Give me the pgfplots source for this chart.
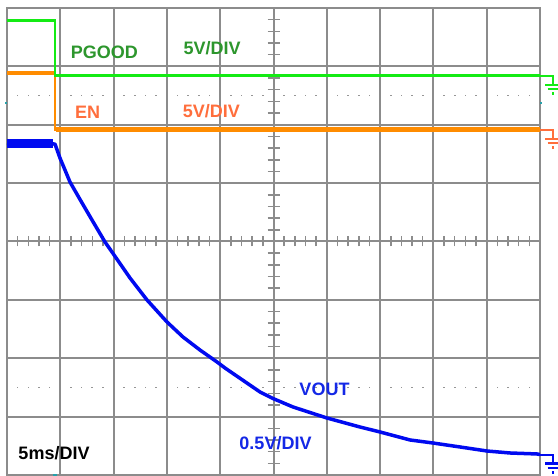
\documentclass[border=0pt]{standalone}
\usepackage{fontspec}
\setmainfont{Liberation Sans}
\usepackage{pgfplots}
\pgfplotsset{compat=1.18}

\definecolor{gridgray}{RGB}{140,140,140}
\definecolor{dotgray}{RGB}{150,150,150}
\definecolor{pgtrace}{RGB}{20,235,20}
\definecolor{pgtext}{RGB}{45,150,45}
\definecolor{entrace}{RGB}{255,140,0}
\definecolor{entext}{RGB}{255,110,60}
\definecolor{vtrace}{RGB}{0,10,240}
\definecolor{vtext}{RGB}{20,40,230}
\definecolor{trig}{RGB}{40,160,170}

\tikzset{lbl/.style={font=\bfseries\fontsize{18}{18}\selectfont, inner sep=0pt, anchor=base west}}

% ground marker at the right edge of the screen
\newcommand{\gnd}[2]{%
  \draw[#1, line width=2pt] (axis cs:10,#2) -- ++(13pt,0pt) -- ++(0pt,-8pt);
  \draw[#1, line width=2.3pt] (axis cs:10,#2) ++(5pt,-9pt) -- ++(13pt,0pt);
  \draw[#1, line width=2.3pt] (axis cs:10,#2) ++(7.5pt,-13.5pt) -- ++(10pt,0pt);
  \fill[#1] (axis cs:10,#2) ++(11.7pt,-19.3pt) rectangle ++(2.6pt,2.6pt);
}

\begin{document}
\begin{tikzpicture}
% screen decorations, one unit = one division, origin at lower left of screen
\begin{scope}[x=53.3pt, y=58.375pt]
  \fill[white] (-7pt,-1pt) rectangle (551pt,475pt);
  \foreach \yy in {1.5,6.5}
    \foreach \i in {1,...,49}
      \fill[dotgray] (\i*0.2,\yy) ++(-0.8pt,-0.8pt) rectangle ++(1.6pt,1.6pt);
  \foreach \i in {1,...,49}
    \draw[gridgray, line width=1.5pt] (\i*0.2,4) ++(0pt,-5pt) -- ++(0pt,10pt);
  \foreach \i in {1,...,39}
    \draw[gridgray, line width=1.5pt] (5,\i*0.2) ++(-6pt,0pt) -- ++(12pt,0pt);
\end{scope}

\begin{axis}[
    anchor=south west, at={(0,0)},
    scale only axis,
    width=533pt, height=467pt,
    xmin=0, xmax=10, ymin=-4, ymax=4,
    xtick={0,...,10}, ytick={-4,...,4},
    xticklabel={\relax}, yticklabel={\relax},
    major tick length=0pt,
    grid=major,
    grid style={gridgray, line width=2pt},
    axis line style={gridgray, line width=2pt},
    clip=false,
]
    % EN
    \addplot[entrace, line width=2pt, mark=none] coordinates {(0,2.89)(0.90,2.89)(0.90,1.915)(10,1.915)};
    \addplot[entrace, line width=4pt, mark=none] coordinates {(0,2.89)(0.88,2.89)};
    \addplot[entrace, line width=4.5pt, mark=none] coordinates {(0.92,1.915)(10,1.915)};

    % PGOOD
    \addplot[pgtrace, line width=2pt, mark=none] coordinates {(0,3.79)(0.90,3.79)(0.90,2.84)(10,2.84)};
    \addplot[pgtrace, line width=3.5pt, mark=none] coordinates {(0,3.79)(0.88,3.79)};
    \addplot[pgtrace, line width=3.5pt, mark=none] coordinates {(0.92,2.84)(10,2.84)};

    % VOUT
    \addplot[vtrace, line width=9pt, mark=none] coordinates {(0,1.68)(0.86,1.68)};
    \addplot[vtrace, line width=3.5pt, mark=none, line join=round] coordinates {
        (0,1.68)(0.90,1.67)(0.994,1.430)(1.182,1.019)(1.370,0.72)(1.595,0.368)
        (1.839,-0.009)(1.970,-0.180)(2.308,-0.625)(2.627,-1.002)(3.002,-1.379)
        (3.302,-1.636)(3.621,-1.859)(3.940,-2.064)(4.090,-2.167)(4.747,-2.578)
        (4.991,-2.69)(5.366,-2.835)(6.004,-3.024)(6.623,-3.178)(6.998,-3.263)
        (7.561,-3.400)(7.992,-3.452)(8.499,-3.520)(9.006,-3.589)(9.437,-3.623)
        (9.944,-3.640)(10,-3.649)};

    % ground markers
    \gnd{pgtrace}{2.84}
    \gnd{entext}{1.915}
    \gnd{vtrace}{-3.649}

    % trigger markers
    \fill[trig] (axis cs:0,2.378) ++(-2pt,-1pt) rectangle ++(2pt,2pt);
    \fill[trig] (axis cs:10,2.378) ++(0pt,-1pt) rectangle ++(2pt,2pt);
    \fill[trig] (axis cs:0.90,-4) ++(-2pt,-1pt) rectangle ++(4pt,2pt);

    % labels
    \node[lbl, pgtext] at (axis cs:1.195,3.138) {PGOOD};
    \node[lbl, pgtext] at (axis cs:3.308,3.195) {5V/DIV};
    \node[lbl, entext] at (axis cs:1.276,2.107) {EN};
    \node[lbl, entext] at (axis cs:3.296,2.124) {5V/DIV};
    \node[lbl, vtext] at (axis cs:5.484,-2.630) {VOUT};
    \node[lbl, vtext] at (axis cs:4.358,-3.560) {0.5V/DIV};
    \node[lbl, black] at (axis cs:0.212,-3.743) {5ms/DIV};
\end{axis}
\pgfresetboundingbox
\useasboundingbox (-7pt,-1pt) rectangle (551pt,475pt);
\end{tikzpicture}
\end{document}
